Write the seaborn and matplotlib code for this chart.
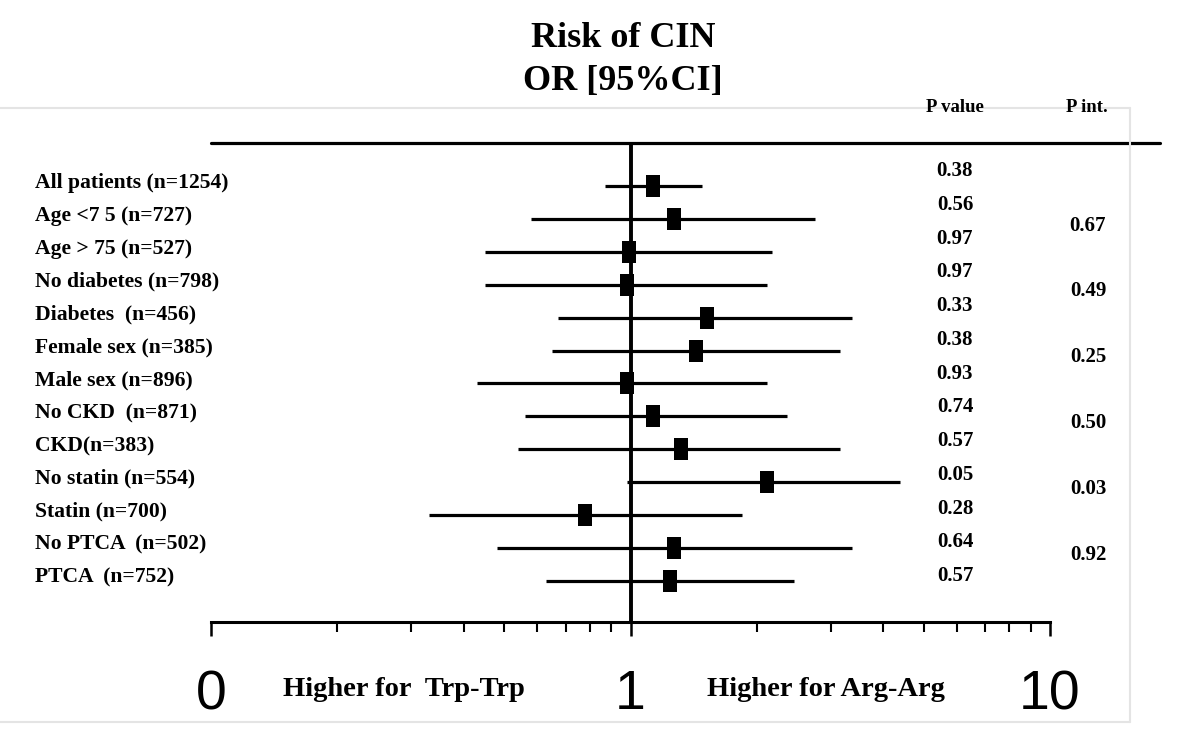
import matplotlib
matplotlib.use("Agg")
import matplotlib.pyplot as plt
import matplotlib.transforms as mtransforms
from matplotlib.lines import Line2D
from matplotlib.path import Path
from matplotlib.ticker import FixedLocator, LogLocator, NullFormatter
import seaborn as sns
import pandas as pd

# subgroup data
groups = ["All patients (n=1254)", "Age <7 5 (n=727)", "Age > 75 (n=527)",
          "No diabetes (n=798)", "Diabetes  (n=456)", "Female sex (n=385)",
          "Male sex (n=896)", "No CKD  (n=871)", "CKD(n=383)",
          "No statin (n=554)", "Statin (n=700)", "No PTCA  (n=502)", "PTCA  (n=752)"]
odds_ratio = [1.13, 1.27, 0.99, 0.98, 1.52, 1.43, 0.98, 1.13, 1.32, 2.12, 0.78, 1.27, 1.24]
ci_low = [0.87, 0.58, 0.45, 0.45, 0.67, 0.65, 0.43, 0.56, 0.54, 0.98, 0.33, 0.48, 0.63]
ci_high = [1.48, 2.76, 2.18, 2.12, 3.38, 3.15, 2.12, 2.36, 3.15, 4.40, 1.84, 3.38, 2.46]
p_values = ["0.38", "0.56", "0.97", "0.97", "0.33", "0.38", "0.93",
            "0.74", "0.57", "0.05", "0.28", "0.64", "0.57"]
p_interaction = ["0.67", "0.49", "0.25", "0.50", "0.03", "0.92"]
tick_values = [0.1, 1, 10]
tick_labels = ["0", "1", "10"]

sns.set_theme(style="white")
plt.rcParams["font.family"] = ["Liberation Serif", "DejaVu Serif"]
plt.rcParams["text.color"] = "black"
plt.rcParams["xtick.color"] = "black"

df = pd.DataFrame({"group": groups, "row": range(len(groups)), "or": odds_ratio,
                   "lo": ci_low, "hi": ci_high})

W, H = 1200, 741
fig = plt.figure(figsize=(12, 7.41), dpi=100)
ax = fig.add_axes([211 / W, 1 - 622 / H, 839 / W, (622 - 143) / H])
ax.set_xscale("log")

# confidence intervals and point estimates
ax.hlines(df["row"], df["lo"], df["hi"], color="black", lw=2.3, zorder=2)
rect = Path([(-0.33, -0.5), (0.33, -0.5), (0.33, 0.5), (-0.33, 0.5), (-0.33, -0.5)], closed=True)
sns.scatterplot(data=df, x="or", y="row", marker=rect, s=240, color="black",
                edgecolor="black", linewidth=0, ax=ax, zorder=3)
ax.axvline(1, color="black", lw=2.8, zorder=2)

ax.set_xlim(0.1, 10)
ax.set_ylim(13.25, -1.31)
ax.set_xlabel("")
ax.set_ylabel("")

for side in ["top", "left", "right"]:
    ax.spines[side].set_visible(False)
ax.spines["bottom"].set_color("black")
ax.spines["bottom"].set_linewidth(2.2)

ax.xaxis.set_major_locator(FixedLocator(tick_values))
ax.set_xticklabels(tick_labels, family=["Liberation Sans Narrow", "Liberation Sans"],
                   fontsize=40, color="black")
ax.xaxis.set_minor_locator(LogLocator(base=10, subs=range(2, 10)))
ax.xaxis.set_minor_formatter(NullFormatter())
ax.tick_params(axis="x", which="major", direction="out", length=10, width=1.8,
               color="black", bottom=True, pad=24)
ax.tick_params(axis="x", which="minor", direction="out", length=7, width=1.5,
               color="black", bottom=True)
ax.tick_params(axis="y", left=False, labelleft=False)

# top rule reaching past the axis
ax.plot([0, (1160 - 211) / 839], [1, 1], transform=ax.transAxes, clip_on=False,
        color="black", lw=2.3)

# text columns
tr = mtransforms.blended_transform_factory(fig.transFigure, ax.transData)
for i, g in enumerate(groups):
    ax.text(35 / W, i - 0.1, g, transform=tr, ha="left", va="center",
            fontsize=15.6, fontweight="bold")
    ax.text(955 / W, -0.456 + 1.026 * i, p_values[i], transform=tr, ha="center",
            va="center", fontsize=15, fontweight="bold")
for k, p in enumerate(p_interaction):
    ax.text(1088 / W, 2 * k + 1.5 - 0.3, p, transform=tr, ha="center", va="center",
            fontsize=15, fontweight="bold")

fig.text(955 / W, 1 - 107 / H, "P value", ha="center", va="center", fontsize=13.5, fontweight="bold")
fig.text(1087 / W, 1 - 107 / H, "P int.", ha="center", va="center", fontsize=13.5, fontweight="bold")

fig.text(623 / W, 1 - 60 / H, "Risk of CIN\nOR [95%CI]", ha="center", va="center",
         fontsize=26, fontweight="bold", linespacing=1.42)

fig.text(404 / W, 1 - 690 / H, "Higher for  Trp-Trp", ha="center", va="center",
         fontsize=20.5, fontweight="bold")
fig.text(826 / W, 1 - 690 / H, "Higher for Arg-Arg", ha="center", va="center",
         fontsize=20.5, fontweight="bold")

# faint frame from the original slide
frame = "#e4e4e4"
fig.add_artist(Line2D([0, 1130 / W], [1 - 108 / H, 1 - 108 / H], color=frame, lw=1.5))
fig.add_artist(Line2D([1130 / W, 1130 / W], [1 - 108 / H, 1 - 722 / H], color=frame, lw=1.5))
fig.add_artist(Line2D([0, 1130 / W], [1 - 722 / H, 1 - 722 / H], color=frame, lw=1.5))

fig.savefig("out.png", dpi=100)
plt.close(fig)
